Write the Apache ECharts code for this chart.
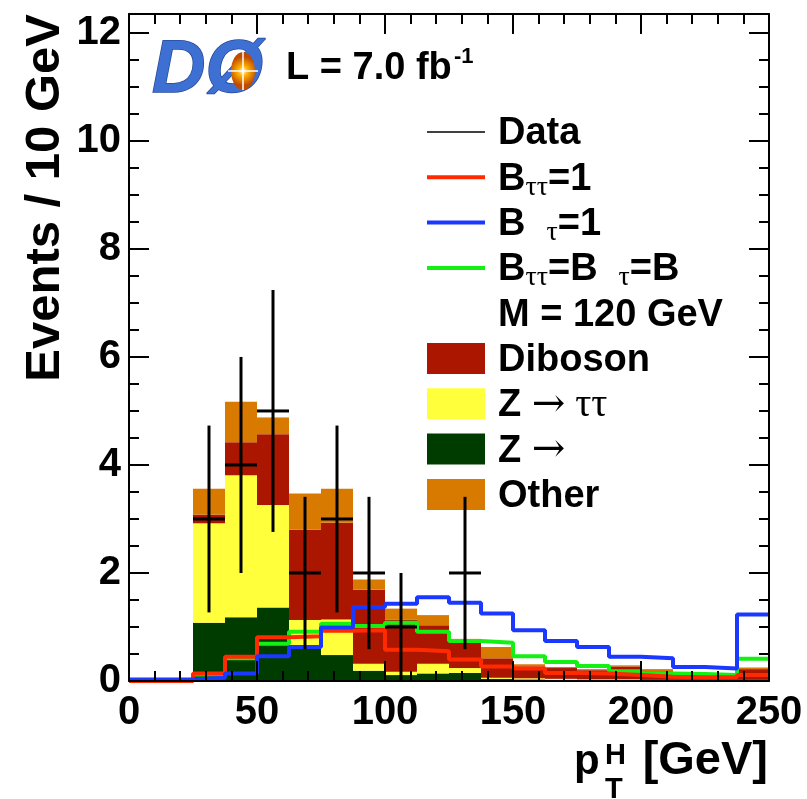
<!DOCTYPE html>
<html>
<head>
<meta charset="utf-8">
<title>pT H distribution</title>
<script src="https://cdn.jsdelivr.net/npm/echarts@6/dist/echarts.min.js"></script>
<style>
  html, body { margin: 0; padding: 0; background: #fff; }
  #chart { width: 807px; height: 799px; }
</style>
</head>
<body>
<div id="chart"></div>
<script>
// 20 bins of 12.5 GeV
const binLow = [0, 12.5, 25, 37.5, 50, 62.5, 75, 87.5, 100, 112.5, 125, 137.5, 150, 162.5, 175, 187.5, 200, 212.5, 225, 237.5]
const binHigh = [12.5, 25, 37.5, 50, 62.5, 75, 87.5, 100, 112.5, 125, 137.5, 150, 162.5, 175, 187.5, 200, 212.5, 225, 237.5, 250]

// backgrounds (stacked, bottom to top)
const zmumu = [0, 0, 1.08, 1.18, 1.36, 0.60, 0.48, 0.19, 0.11, 0.14, 0.15, 0.04, 0.03, 0.02, 0.02, 0.02, 0.01, 0.01, 0.01, 0.01]
const ztautau = [0, 0, 1.84, 2.63, 1.90, 0.53, 0.66, 0.13, 0.06, 0.18, 0.09, 0.02, 0.02, 0.02, 0.01, 0.01, 0.01, 0.01, 0.01, 0.01]
const diboson = [0, 0, 0.16, 0.61, 1.31, 1.67, 1.79, 1.37, 0.97, 0.71, 0.48, 0.36, 0.22, 0.20, 0.17, 0.24, 0.16, 0.08, 0.06, 0.20]
const other = [0, 0, 0.48, 0.75, 0.31, 0.67, 0.63, 0.19, 0.20, 0.19, 0.06, 0.21, 0.04, 0.02, 0.02, 0.02, 0.04, 0.02, 0.02, 0.03]

// signals, M = 120 GeV
const sigTauTau = [0, 0, 0.14, 0.45, 0.81, 0.83, 0.93, 0.94, 0.58, 0.55, 0.40, 0.27, 0.23, 0.15, 0.14, 0.11, 0.08, 0.07, 0.07, 0.11]
const sigMuTau = [0.03, 0.03, 0.06, 0.14, 0.46, 0.63, 0.99, 1.37, 1.43, 1.55, 1.45, 1.25, 0.94, 0.74, 0.63, 0.45, 0.42, 0.26, 0.23, 1.23]
const sigEqual = [0, 0, 0.12, 0.42, 0.69, 0.91, 1.06, 1.02, 1.08, 0.91, 0.74, 0.71, 0.46, 0.35, 0.28, 0.18, 0.14, 0.13, 0.11, 0.41]

// data and error bars
const dataCounts = [0, 0, 3, 4, 5, 2, 3, 2, 1, 0, 2, 0, 0, 0, 0, 0, 0, 0, 0, 0]
const dataErr = [0, 0, 1.73, 2.0, 2.24, 1.41, 1.73, 1.41, 1.0, 0, 1.41, 0, 0, 0, 0, 0, 0, 0, 0, 0]

const xTicks = [0, 50, 100, 150, 200, 250]
const yTicks = [0, 2, 4, 6, 8, 10, 12]

const FONT = 'Liberation Sans, Arial, Helvetica, sans-serif'
const SERIF = 'Liberation Serif, DejaVu Serif, serif'

const colors = {
  zmumu: '#003c00',
  ztautau: '#ffff3c',
  diboson: '#aa1600',
  other: '#d87a00',
  tautau: '#ff2a00',
  mutau: '#1a38ff',
  equal: '#14f014'
}

// cumulative stack -> [lo, hi, bottom, top]
const stackParts = [zmumu, ztautau, diboson, other]
const stackData = []
const running = binLow.map(() => 0)
stackParts.forEach(part => {
  stackData.push(part.map((v, i) => {
    const row = [binLow[i], binHigh[i], running[i], running[i] + v]
    running[i] += v
    return row
  }))
})

function histRender(params, api) {
  const y0 = api.value(2), y1 = api.value(3)
  if (y1 <= y0) return
  const p0 = api.coord([api.value(0), y1])
  const p1 = api.coord([api.value(1), y0])
  return {
    type: 'rect',
    shape: { x: p0[0], y: p0[1], width: p1[0] - p0[0], height: p1[1] - p0[1] },
    style: { fill: api.visual('color') }
  }
}

function dataRender(params, api) {
  const lo = api.value(0), hi = api.value(1), n = api.value(2), e = api.value(3)
  const mid = (lo + hi) / 2
  const a = api.coord([lo, n]), b = api.coord([hi, n])
  const t = api.coord([mid, n + e]), d = api.coord([mid, Math.max(0, n - e)])
  const ls = { stroke: '#000', lineWidth: 3 }
  return {
    type: 'group',
    children: [
      { type: 'line', shape: { x1: a[0], y1: a[1], x2: b[0], y2: b[1] }, style: ls },
      { type: 'line', shape: { x1: t[0], y1: t[1], x2: d[0], y2: d[1] }, style: ls }
    ]
  }
}

// step line points at low edges, plus the last high edge
function stepPoints(vals) {
  const pts = vals.map((v, i) => [binLow[i], v])
  pts.push([binHigh[binHigh.length - 1], vals[vals.length - 1]])
  return pts
}

const stackNames = ['Z mumu', 'Z tautau', 'Diboson', 'Other']
const stackColors = [colors.zmumu, colors.ztautau, colors.diboson, colors.other]

const series = stackData.map((d, k) => ({
  name: stackNames[k],
  type: 'custom',
  renderItem: histRender,
  itemStyle: { color: stackColors[k] },
  data: d,
  clip: true,
  z: 2
}))

;[[sigEqual, colors.equal], [sigTauTau, colors.tautau], [sigMuTau, colors.mutau]].forEach(([vals, c], k) => {
  series.push({
    type: 'line',
    step: 'end',
    symbol: 'none',
    data: stepPoints(vals),
    lineStyle: { color: c, width: 4 },
    clip: true,
    z: 3 + k
  })
})

series.push({
  name: 'Data',
  type: 'custom',
  renderItem: dataRender,
  data: dataCounts.map((n, i) => [binLow[i], binHigh[i], n, dataErr[i]]).filter(r => r[2] > 0),
  z: 7
})

function xAxisDef(pos, labels) {
  return {
    type: 'value', position: pos, min: 0, max: 250, interval: 50, z: 10,
    axisLine: { show: true, onZero: false, lineStyle: { color: '#000', width: 2 } },
    axisTick: { show: true, inside: true, length: 20, lineStyle: { color: '#000', width: 2 } },
    minorTick: { show: true, splitNumber: 5, length: 10, lineStyle: { color: '#000', width: 2 } },
    splitLine: { show: false },
    axisLabel: {
      show: labels, margin: 12, color: '#000', fontFamily: FONT, fontWeight: 'bold', fontSize: 40,
      formatter: v => xTicks.includes(v) ? String(v) : ''
    }
  }
}

function yAxisDef(pos, labels) {
  return {
    type: 'value', position: pos, min: 0, max: 12.35, interval: 2, z: 10,
    axisLine: { show: true, onZero: false, lineStyle: { color: '#000', width: 2 } },
    axisTick: { show: true, inside: true, length: 20, lineStyle: { color: '#000', width: 2 } },
    minorTick: { show: true, splitNumber: 4, length: 10, lineStyle: { color: '#000', width: 2 } },
    splitLine: { show: false },
    axisLabel: {
      show: labels, margin: 8, color: '#000', fontFamily: FONT, fontWeight: 'bold', fontSize: 40,
      showMaxLabel: false,
      formatter: v => yTicks.includes(v) ? String(v) : ''
    }
  }
}

// legend, drawn by hand
const legendRows = [
  { kind: 'line', color: '#000', width: 1.5, text: '{b|Data}' },
  { kind: 'line', color: colors.tautau, width: 4, text: '{b|B}{s|ττ}{b|=1}' },
  { kind: 'line', color: colors.mutau, width: 4, text: '{b|B}{s|   τ}{b|=1}' },
  { kind: 'line', color: colors.equal, width: 4, text: '{b|B}{s|ττ}{b|=B}{s|   τ}{b|=B}' },
  { kind: 'none', text: '{b|M = 120 GeV}' },
  { kind: 'box', color: colors.diboson, text: '{b|Diboson}' },
  { kind: 'box', color: colors.ztautau, text: '{b|Z }{a|→}{g| ττ}' },
  { kind: 'box', color: colors.zmumu, text: '{b|Z }{a|→}' },
  { kind: 'box', color: colors.other, text: '{b|Other}' }
]

const rich = {
  b: { fontFamily: FONT, fontWeight: 'bold', fontSize: 38, lineHeight: 44, color: '#000' },
  s: { fontFamily: SERIF, fontSize: 28, lineHeight: 16, verticalAlign: 'bottom', color: '#000' },
  g: { fontFamily: SERIF, fontSize: 40, lineHeight: 44, color: '#000' },
  a: { fontFamily: 'DejaVu Serif, serif', fontSize: 40, lineHeight: 44, color: '#000' }
}

const graphics = []
legendRows.forEach((r, i) => {
  const y = 132 + i * 45.3
  if (r.kind === 'line') {
    graphics.push({ type: 'line', shape: { x1: 427, y1: y, x2: 485, y2: y }, style: { stroke: r.color, lineWidth: r.width } })
  } else if (r.kind === 'box') {
    graphics.push({ type: 'rect', shape: { x: 427, y: y - 15.5, width: 58, height: 31 }, style: { fill: r.color } })
  }
  graphics.push({
    type: 'text', x: 498, y: y + 2,
    style: { text: r.text, rich: rich, verticalAlign: 'middle', align: 'left' }
  })
})

// D0 logo
graphics.push({
  type: 'text', x: 152, y: 72,
  style: {
    text: 'DØ', fill: '#3d70d2', stroke: '#24499c', lineWidth: 1.5,
    font: 'italic 900 74px ' + FONT, verticalAlign: 'middle', align: 'left'
  }
})
graphics.push({
  type: 'ellipse', shape: { cx: 243, cy: 71, rx: 12, ry: 19 },
  style: {
    fill: {
      type: 'radial', x: 0.5, y: 0.5, r: 0.6,
      colorStops: [{ offset: 0, color: '#fffbe0' }, { offset: 0.35, color: '#ffb000' }, { offset: 1, color: '#c04a00' }]
    }
  }
})
graphics.push({
  type: 'polyline',
  shape: { points: [[228, 71], [258, 71]] }, style: { stroke: '#fff', lineWidth: 1.5 }
})
graphics.push({
  type: 'polyline',
  shape: { points: [[243, 52], [243, 90]] }, style: { stroke: '#fff', lineWidth: 1.5 }
})

// luminosity
graphics.push({
  type: 'text', x: 286, y: 69,
  style: { text: 'L = 7.0 fb', font: 'bold 38px ' + FONT, fill: '#000', verticalAlign: 'middle' }
})
graphics.push({
  type: 'text', x: 454, y: 57,
  style: { text: '-1', font: 'bold 22px ' + FONT, fill: '#000', verticalAlign: 'middle' }
})

// axis titles
graphics.push({
  type: 'text', x: 45, y: 14, rotation: Math.PI / 2,
  style: { text: 'Events / 10 GeV', font: 'bold 49px ' + FONT, fill: '#000', align: 'right', verticalAlign: 'middle' }
})
graphics.push({
  type: 'text', x: 574, y: 762,
  style: { text: 'p', font: 'bold 42px ' + FONT, fill: '#000', verticalAlign: 'middle' }
})
graphics.push({
  type: 'text', x: 605, y: 756,
  style: { text: 'H', font: 'bold 29px ' + FONT, fill: '#000', verticalAlign: 'middle' }
})
graphics.push({
  type: 'text', x: 605, y: 790,
  style: { text: 'T', font: 'bold 29px ' + FONT, fill: '#000', verticalAlign: 'middle' }
})
graphics.push({
  type: 'text', x: 768, y: 761,
  style: { text: '[GeV]', font: 'bold 47px ' + FONT, fill: '#000', align: 'right', verticalAlign: 'middle' }
})

const chart = echarts.init(document.getElementById('chart'), null, { renderer: 'canvas' })
chart.setOption({
  animation: false,
  backgroundColor: '#fff',
  grid: { left: 129, right: 38, top: 14, bottom: 118, containLabel: false },
  xAxis: [xAxisDef('bottom', true), xAxisDef('top', false)],
  yAxis: [yAxisDef('left', true), yAxisDef('right', false)],
  series: series,
  graphic: graphics
})
</script>
</body>
</html>
